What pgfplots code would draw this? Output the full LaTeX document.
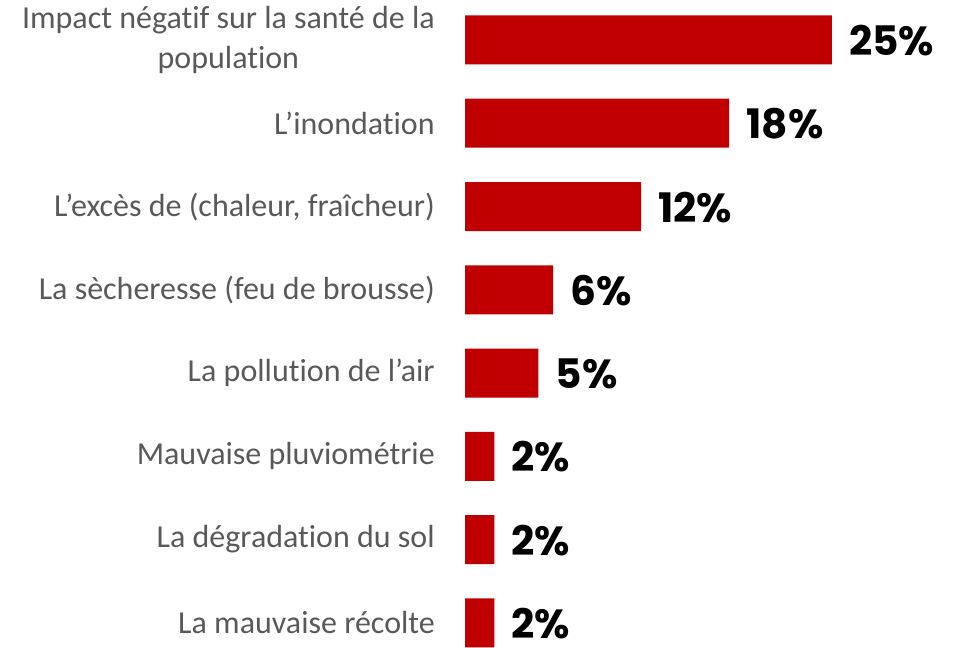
\documentclass[border=0pt]{standalone}
\usepackage{pgfplots}
\pgfplotsset{compat=1.18}
\usepackage{fontspec}
\setmainfont{Carlito}[Ligatures=NoCommon]
\newfontfamily\valfont{Poppins}
\definecolor{barred}{HTML}{C00000}
\definecolor{labgray}{HTML}{595959}

\begin{document}
\begin{tikzpicture}
  % 1px of the reference = 0.75pt
  \begin{axis}[
      at={(348.75pt,0pt)}, anchor=south west,
      scale only axis,
      width=368.25pt, height=485.25pt,
      xbar, bar width=36.75pt, bar shift=0pt,
      xmin=0, xmax=33.45,
      ymin=-0.48, ymax=7.29,
      y dir=reverse,
      axis line style={draw=none},
      xtick=\empty,
      ytick={0,...,7},
      major tick length=0pt,
      yticklabels={{Impact négatif sur la santé de la\\population},
                   {L’inondation},
                   {L’excès de (chaleur, fraîcheur)},
                   {La sècheresse (feu de brousse)},
                   {La pollution de l’air},
                   {Mauvaise pluviométrie},
                   {La dégradation du sol},
                   {La mauvaise récolte}},
      y tick label style={font=\fontsize{24}{30}\selectfont, text=labgray,
                          align=center, inner sep=0pt, xshift=-22.5pt},
      point meta=explicit symbolic,
      nodes near coords,
      nodes near coords style={font=\valfont\bfseries\fontsize{30.5}{34}\selectfont,
                               text=black, inner sep=0pt, anchor=west,
                               xshift=12.75pt, yshift=-0.5pt},
    ]
    \addplot[fill=barred, draw=none] coordinates {
      (25,0) [25\%]
      (18,1) [18\%]
      (12,2) [12\%]
      (6,3)  [6\%]
      (5,4)  [5\%]
      (2,5)  [2\%]
      (2,6)  [2\%]
      (2,7)  [2\%]
    };
  \end{axis}
  \pgfresetboundingbox
  \useasboundingbox (0,0) rectangle (717pt,485.25pt);
\end{tikzpicture}
\end{document}
